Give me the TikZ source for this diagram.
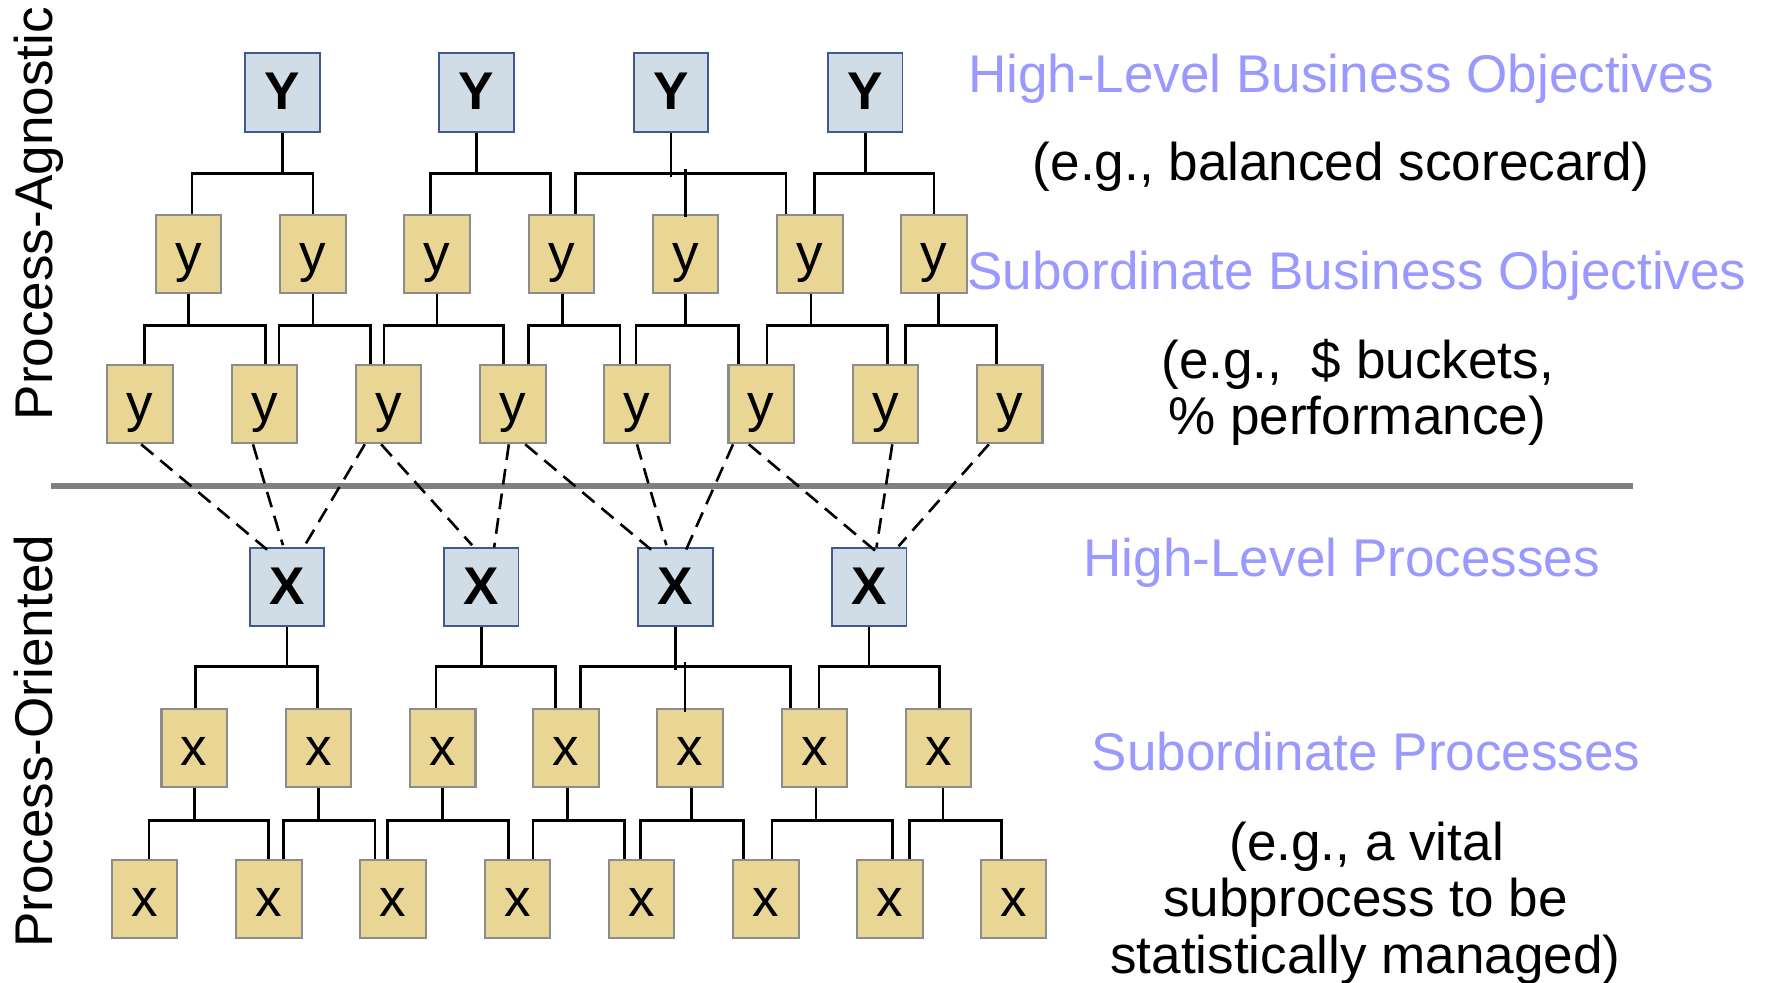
\documentclass[tikz,border=0pt]{standalone}
\usepackage{fontspec}
\setmainfont{Liberation Sans}
\usetikzlibrary{calc}

\definecolor{boxfill}{HTML}{D0DCE6}
\definecolor{boxedge}{HTML}{42598F}
\definecolor{leaffill}{HTML}{E9D694}
\definecolor{leafedge}{HTML}{8C8C8C}
\definecolor{headblue}{HTML}{9999FF}
\definecolor{rulegray}{HTML}{808080}

\newcommand\diagfont{\fontsize{47}{50}\selectfont}

\begin{document}
\begin{tikzpicture}[x=1pt,y=-1pt,
  topbox/.style={draw=boxedge, fill=boxfill, line width=1.6pt, inner sep=0pt,
    minimum width=66pt, text height=50pt, text depth=20pt, font=\diagfont\bfseries},
  leafbox/.style={draw=leafedge, fill=leaffill, line width=1.8pt, inner sep=0pt,
    minimum width=58pt, text height=50pt, text depth=19pt, font=\diagfont},
  tree/.style={line width=2.4pt, draw=black},
  link/.style={line width=2.3pt, draw=black, dash pattern=on 14pt off 8pt},
  headline/.style={font=\diagfont, text=headblue, anchor=base, inner sep=0pt},
  note/.style={font=\diagfont, text=black, anchor=base, inner sep=0pt},
  sidelabel/.style={font=\diagfont, text=black, anchor=base, inner sep=0pt, rotate=90}]

\useasboundingbox (0,0) rectangle (1568,870);

% ---------- levels of the connector trees ----------
\coordinate (barA) at (0,153.5);
\coordinate (barB) at (0,288.5);
\coordinate (barC) at (0,590.3);
\coordinate (barD) at (0,726.3);

% ---------- business objectives ----------
\node[topbox] (Y1) at (250,82) {Y};
\node[topbox] (Y2) at (422,82) {Y};
\node[topbox] (Y3) at (594,82) {Y};
\node[topbox] (Y4) at (766,82) {Y};

\node[leafbox] (a1) at (167,224.5) {y};
\node[leafbox] (a2) at (277,224.5) {y};
\node[leafbox] (a3) at (387,224.5) {y};
\node[leafbox] (a4) at (497,224.5) {y};
\node[leafbox] (a5) at (607,224.5) {y};
\node[leafbox] (a6) at (717,224.5) {y};
\node[leafbox] (a7) at (827,224.5) {y};

\node[leafbox] (b1) at (124,358) {y};
\node[leafbox] (b2) at (234,358) {y};
\node[leafbox] (b3) at (344,358) {y};
\node[leafbox] (b4) at (454,358) {y};
\node[leafbox] (b5) at (564,358) {y};
\node[leafbox] (b6) at (674,358) {y};
\node[leafbox] (b7) at (784,358) {y};
\node[leafbox] (b8) at (894,358) {y};

% ---------- processes ----------
\node[topbox, text depth=19pt] (X1) at (254,520) {X};
\node[topbox, text depth=19pt] (X2) at (426,520) {X};
\node[topbox, text depth=19pt] (X3) at (598,520) {X};
\node[topbox, text depth=19pt] (X4) at (769.5,520) {X};

\node[leafbox] (c1) at (172,662) {x};
\node[leafbox] (c2) at (282,662) {x};
\node[leafbox] (c3) at (392,662) {x};
\node[leafbox] (c4) at (501,662) {x};
\node[leafbox] (c5) at (611,662) {x};
\node[leafbox] (c6) at (721,662) {x};
\node[leafbox] (c7) at (831,662) {x};

\node[leafbox] (d1) at (128,796) {x};
\node[leafbox] (d2) at (238,796) {x};
\node[leafbox] (d3) at (348,796) {x};
\node[leafbox] (d4) at (458,796) {x};
\node[leafbox] (d5) at (568,796) {x};
\node[leafbox] (d6) at (678,796) {x};
\node[leafbox] (d7) at (788,796) {x};
\node[leafbox] (d8) at (897.5,796) {x};

% ---------- objective tree: Y -> y ----------
\draw[tree] (Y1.south) -- (Y1.south |- barA);
\draw[tree] ([xshift=3pt]a1.north) -- ([xshift=3pt]a1.north |- barA) -- (a2.north |- barA) -- (a2.north);
\draw[tree] (Y2.south) -- (Y2.south |- barA);
\draw[tree] ([xshift=-6pt]a3.north) -- ([xshift=-6pt]a3.north |- barA) -- ([xshift=-9.5pt]a4.north |- barA) -- ([xshift=-9.5pt]a4.north);
\draw[tree] (Y3.south) -- ([yshift=-3pt]Y3.south |- barA);
\draw[tree] ([xshift=12.5pt]a4.north) -- ([xshift=12.5pt]a4.north |- barA) -- ([xshift=-21pt]a6.north |- barA) -- ([xshift=-21pt]a6.north);
\draw[tree] ([yshift=4pt]a5.north |- barA) -- ([yshift=-3pt]a5.north);
\draw[tree] (Y4.south) -- (Y4.south |- barA);
\draw[tree] ([xshift=4pt]a6.north) -- ([xshift=4pt]a6.north |- barA) -- (a7.north |- barA) -- (a7.north);

% ---------- objective tree: y -> y ----------
\draw[tree] (a1.south) -- (a1.south |- barB);
\draw[tree] ([xshift=4pt]b1.north) -- ([xshift=4pt]b1.north |- barB) -- ([xshift=1pt]b2.north |- barB) -- ([xshift=1pt]b2.north);
\draw[tree] (a2.south) -- (a2.south |- barB);
\draw[tree] ([xshift=13pt]b2.north) -- ([xshift=13pt]b2.north |- barB) -- ([xshift=-16pt]b3.north |- barB) -- ([xshift=-16pt]b3.north);
\draw[tree] (a3.south) -- (a3.south |- barB);
\draw[tree] ([xshift=-4pt]b3.north) -- ([xshift=-4pt]b3.north |- barB) -- ([xshift=-8pt]b4.north |- barB) -- ([xshift=-8pt]b4.north);
\draw[tree] ([xshift=1pt]a4.south) -- ([xshift=1pt]a4.south |- barB);
\draw[tree] ([xshift=14pt]b4.north) -- ([xshift=14pt]b4.north |- barB) -- ([xshift=-15pt]b5.north |- barB) -- ([xshift=-15pt]b5.north);
\draw[tree] (a5.south) -- (a5.south |- barB);
\draw[tree] ([xshift=-1pt]b5.north) -- ([xshift=-1pt]b5.north |- barB) -- ([xshift=-20pt]b6.north |- barB) -- ([xshift=-20pt]b6.north);
\draw[tree] ([xshift=1pt]a6.south) -- ([xshift=1pt]a6.south |- barB);
\draw[tree] ([xshift=5pt]b6.north) -- ([xshift=5pt]b6.north |- barB) -- ([xshift=2pt]b7.north |- barB) -- ([xshift=2pt]b7.north);
\draw[tree] ([xshift=4pt]a7.south) -- ([xshift=4pt]a7.south |- barB);
\draw[tree] ([xshift=18pt]b7.north) -- ([xshift=18pt]b7.north |- barB) -- ([xshift=-12pt]b8.north |- barB) -- ([xshift=-12pt]b8.north);

% ---------- process tree: X -> x ----------
\draw[tree] (X1.south) -- (X1.south |- barC);
\draw[tree] ([xshift=1pt]c1.north) -- ([xshift=1pt]c1.north |- barC) -- ([xshift=-1pt]c2.north |- barC) -- ([xshift=-1pt]c2.north);
\draw[tree] (X2.south) -- (X2.south |- barC);
\draw[tree] ([xshift=-6pt]c3.north) -- ([xshift=-6pt]c3.north |- barC) -- ([xshift=-9pt]c4.north |- barC) -- ([xshift=-9pt]c4.north);
\draw[tree] (X3.south) -- ([yshift=-3pt]X3.south |- barC);
\draw[tree] ([xshift=13pt]c4.north) -- ([xshift=13pt]c4.north |- barC) -- ([xshift=-21pt]c6.north |- barC) -- ([xshift=-21pt]c6.north);
\draw[tree] ([xshift=-4.5pt,yshift=4pt]c5.north |- barC) -- ([xshift=-4.5pt,yshift=-4pt]c5.north);
\draw[tree] (X4.south) -- (X4.south |- barC);
\draw[tree] ([xshift=4pt]c6.north) -- ([xshift=4pt]c6.north |- barC) -- ([xshift=1pt]c7.north |- barC) -- ([xshift=1pt]c7.north);

% ---------- process tree: x -> x ----------
\draw[tree] (c1.south) -- (c1.south |- barD);
\draw[tree] ([xshift=4pt]d1.north) -- ([xshift=4pt]d1.north |- barD) -- (d2.north |- barD) -- (d2.north);
\draw[tree] (c2.south) -- (c2.south |- barD);
\draw[tree] ([xshift=13pt]d2.north) -- ([xshift=13pt]d2.north |- barD) -- ([xshift=-16pt]d3.north |- barD) -- ([xshift=-16pt]d3.north);
\draw[tree] (c3.south) -- (c3.south |- barD);
\draw[tree] ([xshift=-5pt]d3.north) -- ([xshift=-5pt]d3.north |- barD) -- ([xshift=-8pt]d4.north |- barD) -- ([xshift=-8pt]d4.north);
\draw[tree] ([xshift=1.5pt]c4.south) -- ([xshift=1.5pt]c4.south |- barD);
\draw[tree] ([xshift=14pt]d4.north) -- ([xshift=14pt]d4.north |- barD) -- ([xshift=-15pt]d5.north |- barD) -- ([xshift=-15pt]d5.north);
\draw[tree] ([xshift=1.5pt]c5.south) -- ([xshift=1.5pt]c5.south |- barD);
\draw[tree] ([xshift=-1pt]d5.north) -- ([xshift=-1pt]d5.north |- barD) -- ([xshift=-20pt]d6.north |- barD) -- ([xshift=-20pt]d6.north);
\draw[tree] ([xshift=1.5pt]c6.south) -- ([xshift=1.5pt]c6.south |- barD);
\draw[tree] ([xshift=5.5pt]d6.north) -- ([xshift=5.5pt]d6.north |- barD) -- ([xshift=2pt]d7.north |- barD) -- ([xshift=2pt]d7.north);
\draw[tree] ([xshift=4pt]c7.south) -- ([xshift=4pt]c7.south |- barD);
\draw[tree] ([xshift=17pt]d7.north) -- ([xshift=17pt]d7.north |- barD) -- ([xshift=-11pt]d8.north |- barD) -- ([xshift=-11pt]d8.north);

% ---------- dividing rule ----------
\draw[rulegray, line width=5.5pt] (45,430) -- (1446,430);

% ---------- objectives mapped onto processes ----------
\draw[link] ([xshift=1pt]b1.south)   -- ([xshift=-17.5pt,yshift=-2pt]X1.north);
\draw[link] ([xshift=-10pt]b2.south) -- ([xshift=-3.5pt,yshift=2pt]X1.north);
\draw[link] ([xshift=-21pt]b3.south) -- ([xshift=13pt,yshift=-3pt]X1.north);
\draw[link] ([xshift=-6.5pt]b3.south) -- ([xshift=-8pt,yshift=2pt]X2.north);
\draw[link] ([xshift=-3.5pt]b4.south) -- ([xshift=11.5pt]X2.north);
\draw[link] ([xshift=11pt]b4.south)  -- ([xshift=-21.5pt,yshift=-2pt]X3.north);
\draw[link] (b5.south)               -- ([xshift=-8pt,yshift=2pt]X3.north);
\draw[link] ([xshift=-25pt]b6.south) -- ([xshift=9pt,yshift=-3pt]X3.north);
\draw[link] ([xshift=-11pt]b6.south) -- ([xshift=5.5pt,yshift=-3pt]X4.north);
\draw[link] ([xshift=6pt]b7.south)   -- ([xshift=6.5pt]X4.north);
\draw[link] ([xshift=-18.5pt]b8.south) -- ([xshift=26pt,yshift=1pt]X4.north);

% ---------- side labels ----------
\node[sidelabel] (agn) at (46.6,189.3) {Process-Agnostic};
\node[sidelabel] (ori) at (46.6,656.3) {Process-Oriented};

% ---------- level captions ----------
\node[headline] (hbo) at (1187.5,81.5) {High-Level Business Objectives};
\node[note] (hboex) at (1187.5,159.5) {(e.g., balanced scorecard)};
\node[headline] (sbo) at (1201.5,256) {Subordinate Business Objectives};
\node[note] (sboexa) at (1202,335) {(e.g.,\ \ \$ buckets,};
\node[note] (sboexb) at (1201.5,385) {\% performance)};
\node[headline] (hlp) at (1188,510) {High-Level Processes};
\node[headline] (slp) at (1209.5,682) {Subordinate Processes};
\node[note] (slpexa) at (1210,762) {(e.g., a vital};
\node[note] (slpexb) at (1209,811.6) {subprocess to be};
\node[note] (slpexc) at (1209,861.7) {statistically managed)};
\end{tikzpicture}
\end{document}
